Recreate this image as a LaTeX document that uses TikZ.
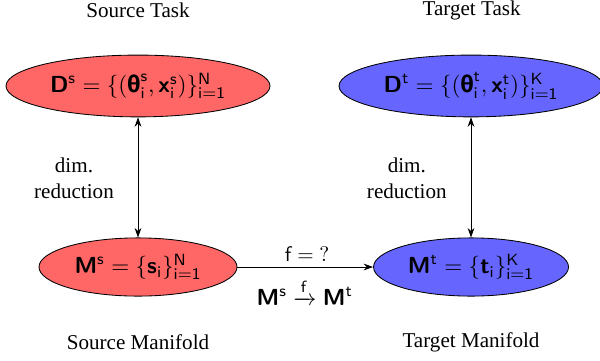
\documentclass[tikz,border=0pt]{standalone}
\usepackage{amsmath}
\usepackage{fontspec}
\setmainfont{Liberation Serif}
\newfontfamily\grkfont{Fira Sans}
\usetikzlibrary{shapes.geometric,arrows.meta}
\definecolor{srcred}{HTML}{FF6666}
\definecolor{tgtblue}{HTML}{6666FF}
\newcommand\sfb[1]{\textsf{\textbf{#1}}}
\newcommand\sfm[1]{\mathsf{#1}}
\newcommand\bth{\text{\grkfont\bfseries θ}}
\begin{document}
\begin{tikzpicture}[
  every node/.style={font=\fontsize{10}{12}\selectfont},
  ell/.style={ellipse, draw=black, inner sep=0pt, font=\fontsize{11}{13}\selectfont},
  bigell/.style={ell, minimum width=4.4cm, minimum height=1.03cm},
  smallell/.style={ell, minimum width=3.3cm, minimum height=0.97cm},
  lbl/.style={align=center},
  arr/.style={-{Stealth[length=4.5pt,width=3.2pt]}},
  darr/.style={{Stealth[length=4.5pt,width=3.2pt]}-{Stealth[length=4.5pt,width=3.2pt]}}
]
\useasboundingbox (0,0) rectangle (10,6);
% titles
\node[lbl] (st) at (2.3,5.833) {Source Task};
\node[lbl] (tt) at (7.86,5.833) {Target Task};
\node[lbl] (sm) at (2.3,0.3) {Source Manifold};
\node[lbl] (tm) at (7.85,0.3) {Target Manifold};
% ellipses
\node[bigell, fill=srcred] (ds) at (2.3,4.567)
  {$\sfb{D}^{\sfm{s}} = \{(\bth^{\sfm{s}}_{\sfm{i}}, \sfb{x}^{\sfm{s}}_{\sfm{i}})\}^{\sfm{N}}_{\sfm{i}=\sfm{1}}$};
\node[bigell, fill=tgtblue] (dt) at (7.85,4.567)
  {$\sfb{D}^{\sfm{t}} = \{(\bth^{\sfm{t}}_{\sfm{i}}, \sfb{x}^{\sfm{t}}_{\sfm{i}})\}^{\sfm{K}}_{\sfm{i}=\sfm{1}}$};
\node[smallell, fill=srcred] (ms) at (2.3,1.55)
  {$\sfb{M}^{\sfm{s}} = \{\sfb{s}_{\sfm{i}}\}^{\sfm{N}}_{\sfm{i}=\sfm{1}}$};
\node[smallell, fill=tgtblue, minimum width=3.25cm] (mt) at (7.85,1.55)
  {$\sfb{M}^{\sfm{t}} = \{\sfb{t}_{\sfm{i}}\}^{\sfm{K}}_{\sfm{i}=\sfm{1}}$};
% connectors
\draw[darr] (ds) -- (ms);
\draw[darr] (dt) -- (mt);
\draw[arr] (ms) -- (mt);
% labels
\node[lbl] (drl) at (1.233,3.03) {dim.\\reduction};
\node[lbl] (drr) at (6.78,3.03) {dim.\\reduction};
\node (fq) at (5.12,1.767) {$\sfm{f} = \mathord{?}$};
\node[font=\fontsize{11}{13}\selectfont] (fmap) at (5.08,1.133) {$\sfb{M}^{\sfm{s}} \xrightarrow{\sfm{f}} \sfb{M}^{\sfm{t}}$};
\end{tikzpicture}
\end{document}
